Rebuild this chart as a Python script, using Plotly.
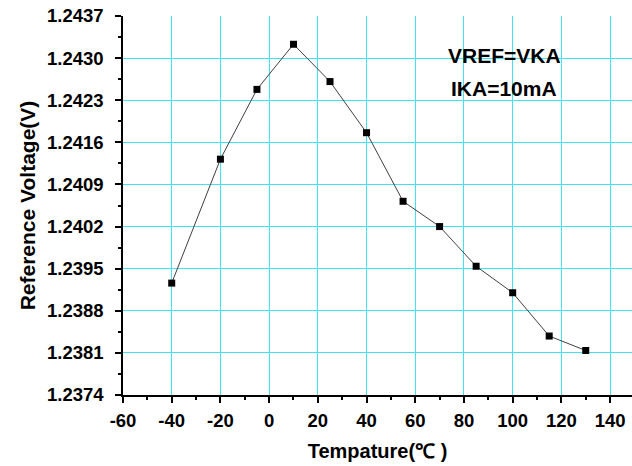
import plotly.graph_objects as go

temps = [-40, -20, -5, 10, 25, 40, 55, 70, 85, 100, 115, 130]
vref = [1.23926, 1.24132, 1.24248, 1.24323, 1.24261, 1.24176, 1.24062, 1.24020,
        1.23954, 1.23910, 1.23838, 1.23814]
x_ticks = [-60, -40, -20, 0, 20, 40, 60, 80, 100, 120, 140]
y_ticks = [1.2374, 1.2381, 1.2388, 1.2395, 1.2402, 1.2409, 1.2416, 1.2423, 1.2430, 1.2437]
x_labels = ["<b>%d</b>" % v for v in x_ticks]
y_labels = ["<b>%.4f</b>" % v for v in y_ticks]

font = "Liberation Sans, Arial, sans-serif"
grid = "#3FE3EF"

fig = go.Figure()
fig.add_trace(go.Scatter(
    x=temps, y=vref, mode="lines+markers",
    line=dict(color="#404040", width=1),
    marker=dict(symbol="square", size=7, color="black"),
    showlegend=False,
))

fig.add_annotation(x=96.5, y=1.24304, text="<b>VREF=VKA</b>", showarrow=False,
                   font=dict(family=font, size=21, color="black"))
fig.add_annotation(x=96.5, y=1.24249, text="<b>IKA=10mA</b>", showarrow=False,
                   font=dict(family=font, size=21, color="black"))

fig.update_xaxes(
    range=[-60, 149], tickvals=x_ticks, ticktext=x_labels,
    showgrid=True, gridcolor=grid, gridwidth=1.4,
    showline=True, linecolor="black", linewidth=1.5,
    ticks="outside", ticklen=6, tickwidth=1.5, tickcolor="black",
    minor=dict(tickvals=list(range(-50, 150, 20)), ticks="outside", ticklen=3,
               tickcolor="black", showgrid=False),
    tickfont=dict(family=font, size=18.5, color="black"),
    ticklabelstandoff=2,
    title=dict(text="<b>Tempature(℃ )</b>", font=dict(family=font, size=20, color="black"),
               standoff=14),
    zeroline=False,
)
fig.update_yaxes(
    range=[1.2374, 1.2437], tickvals=y_ticks, ticktext=y_labels,
    showgrid=True, gridcolor=grid, gridwidth=1.4,
    showline=True, linecolor="black", linewidth=1.5,
    ticks="outside", ticklen=6, tickwidth=1.5, tickcolor="black",
    minor=dict(tickvals=[round(v + 0.00035, 5) for v in y_ticks[:-1]], ticks="outside",
               ticklen=3, tickcolor="black", showgrid=False),
    tickfont=dict(family=font, size=18.5, color="black"),
    ticklabelstandoff=8,
    title=dict(text="<b>Reference Voltage(V)</b>", font=dict(family=font, size=21, color="black"),
               standoff=6),
    zeroline=False,
)
fig.update_layout(
    width=632, height=466,
    margin=dict(l=123, r=0, t=16, b=71),
    plot_bgcolor="white", paper_bgcolor="white",
    font=dict(family=font, color="black"),
)
fig.write_html("out.html", config={"displayModeBar": False},
               post_script="document.body.style.margin='0';document.body.style.overflow='hidden';")
